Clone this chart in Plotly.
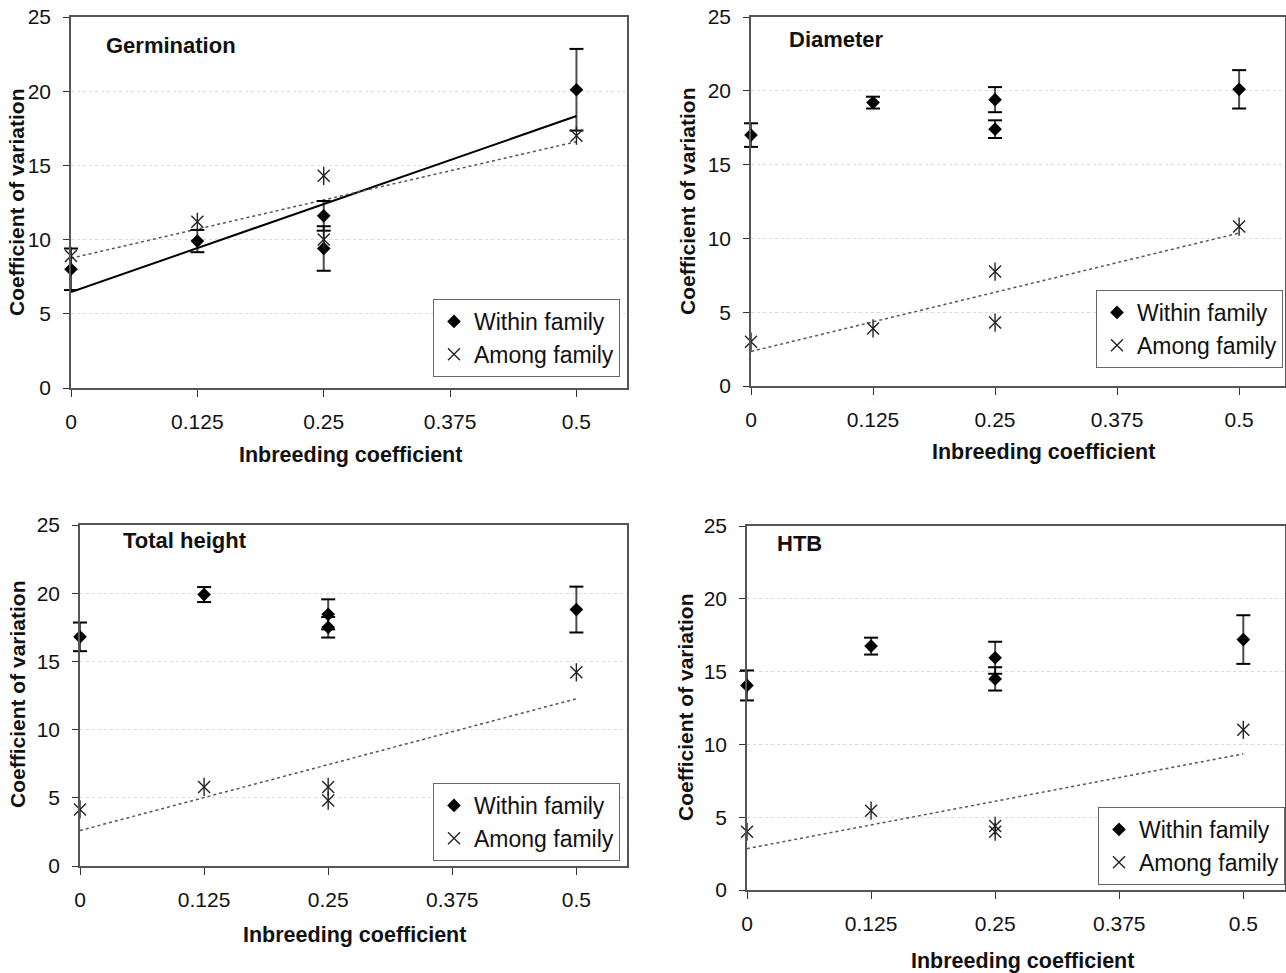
import numpy as np
import plotly.graph_objects as go

W, H = 1286, 973

# ---------------- data ----------------
panel_titles = ["Germination", "Diameter", "Total height", "HTB"]
x_ticks = [0, 0.125, 0.25, 0.375, 0.5]
x_tick_labels = ["0", "0.125", "0.25", "0.375", "0.5"]
y_ticks = [0, 5, 10, 15, 20, 25]

# Germination
germ_within_x = [0, 0.125, 0.25, 0.25, 0.5]
germ_within_y = [8.0, 9.9, 11.6, 9.4, 20.1]
germ_within_err = [1.4, 0.75, 1.0, 1.5, 2.75]
germ_among_x = [0, 0.125, 0.25, 0.25, 0.5]
germ_among_y = [8.9, 11.2, 14.3, 10.0, 17.0]

# Diameter
diam_within_x = [0, 0.125, 0.25, 0.25, 0.5]
diam_within_y = [17.0, 19.2, 19.4, 17.4, 20.1]
diam_within_err = [0.8, 0.4, 0.85, 0.6, 1.3]
diam_among_x = [0, 0.125, 0.25, 0.25, 0.5]
diam_among_y = [3.0, 3.9, 7.75, 4.3, 10.8]

# Total height
th_within_x = [0, 0.125, 0.25, 0.25, 0.5]
th_within_y = [16.8, 19.9, 18.45, 17.5, 18.8]
th_within_err = [1.05, 0.55, 1.1, 0.75, 1.68]
th_among_x = [0, 0.125, 0.25, 0.25, 0.5]
th_among_y = [4.15, 5.8, 5.8, 4.8, 14.2]

# HTB
htb_within_x = [0, 0.125, 0.25, 0.25, 0.5]
htb_within_y = [14.05, 16.75, 15.95, 14.5, 17.2]
htb_within_err = [1.03, 0.58, 1.1, 0.8, 1.67]
htb_among_x = [0, 0.125, 0.25, 0.25, 0.5]
htb_among_y = [4.0, 5.45, 4.4, 4.0, 11.0]

panels = [
    (germ_within_x, germ_within_y, germ_within_err, germ_among_x, germ_among_y, True),
    (diam_within_x, diam_within_y, diam_within_err, diam_among_x, diam_among_y, False),
    (th_within_x, th_within_y, th_within_err, th_among_x, th_among_y, False),
    (htb_within_x, htb_within_y, htb_within_err, htb_among_x, htb_among_y, False),
]

# ---------------- layout geometry (pixels) ----------------
boxes = [
    (71, 627, 17, 388, 0.550),
    (751, 1285, 17, 386, 0.547),
    (80, 627, 525, 866, 0.551),
    (747, 1285, 526, 890, 0.542),
]
legend_pos = [(433, 299), (1096, 290), (433, 783), (1098, 807)]
ytitle_pos = [(17, 202), (687, 201), (17, 694), (685, 707)]
xtitle_pos = [(350, 455), (1043, 452), (354, 935), (1022, 961)]
ptitle_pos = [(104, 46), (787, 39), (121, 540), (775, 543)]
CAP_LEN = 14     # cap length in pixels
LINE_K = 1.4     # plotly line-symbol length = 1.4 * marker size

FONT = "Liberation Sans, Arial, sans-serif"
MARK = "#222"

fig = go.Figure()
layout = dict(
    width=W, height=H, margin=dict(l=0, r=0, t=0, b=0, autoexpand=False),
    paper_bgcolor="white", plot_bgcolor="white",
    font=dict(family=FONT, color="black"),
    showlegend=True,
)
annotations = []

for i, (wx, wy, we, ax, ay, within_trend) in enumerate(panels):
    k = "" if i == 0 else str(i + 1)
    xa, ya = "x" + k, "y" + k
    leg = "legend" + k
    l, r, t, b, xmax = boxes[i]
    px_per_y = (b - t) / 25.0

    layout["xaxis" + k] = dict(
        domain=[l / W, r / W], range=[0, xmax], anchor=ya,
        tickmode="array", tickvals=x_ticks, ticktext=x_tick_labels,
        ticks="outside", ticklen=7, tickwidth=1, tickcolor="#333",
        showline=True, linecolor="#555", linewidth=1.5, mirror=True,
        showgrid=False, zeroline=False, automargin=False,
        tickfont=dict(size=21, family=FONT, color="#111"),
        ticklabelstandoff=7,
    )
    layout["yaxis" + k] = dict(
        domain=[1 - b / H, 1 - t / H], range=[0, 25], anchor=xa,
        tickmode="array", tickvals=y_ticks,
        ticks="outside", ticklen=6, tickwidth=1, tickcolor="#333",
        showline=True, linecolor="#555", linewidth=1.5, mirror=True,
        showgrid=True, gridcolor="#dadada", griddash="dot", gridwidth=1,
        zeroline=False, automargin=False,
        tickfont=dict(size=21, family=FONT, color="#111"),
        ticklabelstandoff=8,
    )
    lx, ly = legend_pos[i]
    layout[leg] = dict(
        x=lx / W, y=1 - ly / H, xanchor="left", yanchor="top",
        xref="paper", yref="paper",
        bgcolor="white", bordercolor="#666", borderwidth=1,
        font=dict(size=23, family=FONT, color="#111"),
        tracegroupgap=0, itemwidth=30,
    )

    xs = np.array([0.0, 0.5])
    if within_trend:
        c = np.polyfit(wx, wy, 1)
        fig.add_trace(go.Scatter(x=xs, y=np.polyval(c, xs), mode="lines",
                                 line=dict(color="black", width=2),
                                 showlegend=False, xaxis=xa, yaxis=ya,
                                 hoverinfo="skip"))
    c = np.polyfit(ax, ay, 1)
    fig.add_trace(go.Scatter(x=xs, y=np.polyval(c, xs), mode="lines",
                             line=dict(color="#555", width=1.5, dash="dot"),
                             showlegend=False, xaxis=xa, yaxis=ya,
                             hoverinfo="skip"))

    # error bars drawn as unclipped line markers (so bars at x=0 are not cut)
    stem_sizes = [2 * e * px_per_y / LINE_K for e in we]
    fig.add_trace(go.Scatter(
        x=wx, y=wy, mode="markers", showlegend=False, hoverinfo="skip",
        marker=dict(symbol="line-ns-open", size=stem_sizes, color="black",
                    line=dict(width=2, color="black")),
        xaxis=xa, yaxis=ya, cliponaxis=False,
    ))
    cap_x = list(wx) + list(wx)
    cap_y = [y + e for y, e in zip(wy, we)] + [y - e for y, e in zip(wy, we)]
    fig.add_trace(go.Scatter(
        x=cap_x, y=cap_y, mode="markers", showlegend=False, hoverinfo="skip",
        marker=dict(symbol="line-ew-open", size=CAP_LEN / LINE_K, color="black",
                    line=dict(width=2, color="black")),
        xaxis=xa, yaxis=ya, cliponaxis=False,
    ))

    fig.add_trace(go.Scatter(
        x=wx, y=wy, mode="markers", name="Within family",
        marker=dict(symbol="diamond", size=10.5, color="black"),
        xaxis=xa, yaxis=ya, legend=leg, cliponaxis=False,
    ))
    fig.add_trace(go.Scatter(
        x=ax, y=ay, mode="markers", name="Among family",
        marker=dict(symbol="x-thin-open", size=12, color=MARK,
                    line=dict(width=1.4, color=MARK)),
        xaxis=xa, yaxis=ya, legend=leg, cliponaxis=False,
    ))
    fig.add_trace(go.Scatter(
        x=ax, y=ay, mode="markers", showlegend=False,
        marker=dict(symbol="line-ns-open", size=13, color=MARK,
                    line=dict(width=1.4, color=MARK)),
        xaxis=xa, yaxis=ya, hoverinfo="skip", cliponaxis=False,
    ))

    px_, py_ = ytitle_pos[i]
    annotations.append(dict(text="<b>Coefficient of variation</b>", x=px_ / W, y=1 - py_ / H,
                            xref="paper", yref="paper", showarrow=False, textangle=-90,
                            xanchor="center", yanchor="middle",
                            font=dict(size=21, family=FONT, color="#111")))
    px_, py_ = xtitle_pos[i]
    annotations.append(dict(text="<b>Inbreeding coefficient</b>", x=px_ / W, y=1 - py_ / H,
                            xref="paper", yref="paper", showarrow=False,
                            xanchor="center", yanchor="middle",
                            font=dict(size=21.5, family=FONT, color="#111")))
    px_, py_ = ptitle_pos[i]
    annotations.append(dict(text="<b>" + panel_titles[i] + "</b>", x=px_ / W, y=1 - py_ / H,
                            xref="paper", yref="paper", showarrow=False,
                            xanchor="left", yanchor="middle",
                            font=dict(size=22, family=FONT, color="#111")))

layout["annotations"] = annotations
fig.update_layout(**layout)
fig.write_html("out.html")
